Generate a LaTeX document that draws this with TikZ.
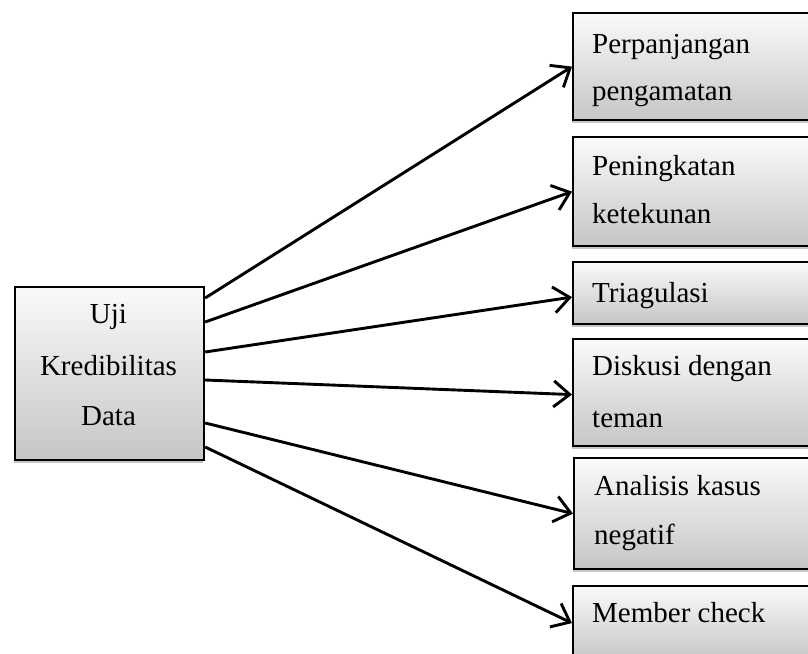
\documentclass[tikz,border=0pt]{standalone}
\usepackage{fontspec}
\setmainfont{Liberation Serif}
\usetikzlibrary{arrows.meta,shadows,calc}
\begin{document}
\begin{tikzpicture}[x=1pt,y=-1pt,
  box/.style={draw=black, line width=2.2pt, top color=gray!4, bottom color=gray!45,
    drop shadow={shadow xshift=-1pt, shadow yshift=-3pt, opacity=0.45},
    rectangle, inner sep=0pt, anchor=north west},
  lbl/.style={font=\fontsize{29}{35}\selectfont, anchor=base west, inner sep=0pt},
  ctr/.style={font=\fontsize{29}{35}\selectfont, anchor=base, inner sep=0pt},
  arr/.style={line width=2.9pt, -{Straight Barb[length=16pt,width=26pt,line width=2.9pt]}}]
\useasboundingbox (0,0) rectangle (808,653);
\begin{scope}
\clip (0,0) rectangle (808,653);
% left box
\node[box, minimum width=189pt, minimum height=173pt] (L) at (14,286) {};
\node[ctr] (l1) at (108.5,323) {Uji};
\node[ctr] (l2) at (108.5,375) {Kredibilitas};
\node[ctr] (l3) at (108.5,425) {Data};
% right boxes
\node[box, minimum width=260pt, minimum height=107pt] (b1) at (572,12) {};
\node[lbl] (t1a) at (592,53) {Perpanjangan};
\node[lbl] (t1b) at (592,100) {pengamatan};
\node[box, minimum width=260pt, minimum height=109pt] (b2) at (572,136) {};
\node[lbl] (t2a) at (592,175) {Peningkatan};
\node[lbl] (t2b) at (592,223) {ketekunan};
\node[box, minimum width=260pt, minimum height=62pt] (b3) at (572,261) {};
\node[lbl] (t3) at (592,302) {Triagulasi};
\node[box, minimum width=260pt, minimum height=107pt] (b4) at (572,338) {};
\node[lbl] (t4a) at (592,375) {Diskusi dengan};
\node[lbl] (t4b) at (592,427) {teman};
\node[box, minimum width=260pt, minimum height=111pt] (b5) at (573,457) {};
\node[lbl] (t5a) at (594,495) {Analisis kasus};
\node[lbl] (t5b) at (594,544) {negatif};
\node[box, minimum width=260pt, minimum height=74pt] (b6) at (572,585) {};
\node[lbl] (t6) at (592,622) {Member check};
% arrows
\draw[arr] ($(L.north east)+(0,12)$) -- (b1.west);
\draw[arr] ($(L.north east)+(0,36)$) -- (b2.west);
\draw[arr] ($(L.north east)+(0,66)$) -- ($(b3.west)+(0,4)$);
\draw[arr] ($(L.north east)+(0,94)$) -- ($(b4.west)+(0,2)$);
\draw[arr] ($(L.north east)+(0,137)$) -- (b5.west);
\draw[arr] ($(L.north east)+(0,161)$) -- (b6.west);
\end{scope}
\end{tikzpicture}
\end{document}
